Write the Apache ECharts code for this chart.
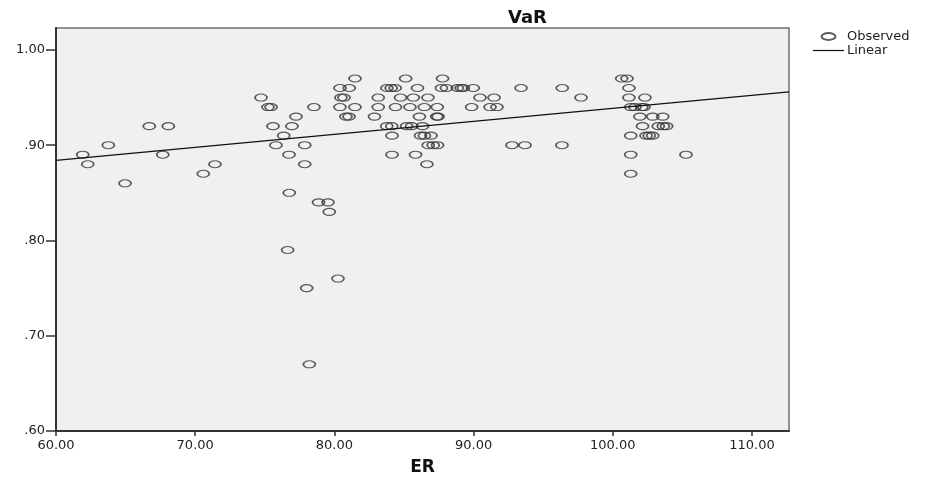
<!DOCTYPE html>
<html lang="en">

<head>
    <meta charset="UTF-8">
    <title>VaR vs ER</title>
    <script src="https://cdn.jsdelivr.net/npm/echarts@6/dist/echarts.min.js"></script>
    <style>
        body,
        html {
            padding: 0;
            margin: 0;
            background: #fff;
        }

        #chart-panel {
            width: 929px;
            height: 481px;
        }
    </style>
</head>

<body>
    <div id="chart-panel"></div>
    <script>
        // observed points
        var erValues = [
            61.92, 62.28, 63.76, 64.96, 66.70, 68.07, 67.67, 70.58, 71.42,
            74.73, 75.23, 75.45, 75.59, 75.80, 76.36, 76.74, 76.76, 76.64, 76.95, 77.24,
            77.87, 77.87, 78.01, 78.20, 78.53, 78.86, 79.54, 79.63, 80.26,
            80.40, 81.07, 80.47, 80.69, 80.40, 80.83, 81.05, 81.48, 81.48,
            82.88, 83.15, 83.15, 83.76, 84.12, 84.14, 84.14, 83.77, 84.08, 84.37, 84.75, 84.39,
            85.67, 85.43, 85.97, 86.11, 85.19, 85.55, 86.33, 85.83, 86.19, 86.47, 86.94, 86.72, 86.46,
            86.74, 87.10, 87.41, 86.65, 87.39, 87.35, 87.45, 87.77, 87.69, 88.05, 88.84, 89.10, 89.27,
            89.98, 85.12,
            90.46, 89.86, 91.47, 91.18, 91.68, 92.76, 93.69, 93.41, 96.37, 96.35, 97.72,
            100.64, 101.02, 101.16, 101.16, 102.31, 101.29, 101.59, 102.08, 102.24,
            101.95, 102.87, 103.59, 102.14, 103.27, 103.63, 103.87,
            101.29, 102.39, 102.62, 102.87, 101.29, 105.26, 101.29
        ];
        var varValues = [
            0.89, 0.88, 0.90, 0.86, 0.92, 0.92, 0.89, 0.87, 0.88,
            0.95, 0.94, 0.94, 0.92, 0.90, 0.91, 0.89, 0.85, 0.79, 0.92, 0.93,
            0.90, 0.88, 0.75, 0.67, 0.94, 0.84, 0.84, 0.83, 0.76,
            0.96, 0.96, 0.95, 0.95, 0.94, 0.93, 0.93, 0.97, 0.94,
            0.93, 0.95, 0.94, 0.92, 0.92, 0.91, 0.89, 0.96, 0.96, 0.96, 0.95, 0.94,
            0.95, 0.94, 0.96, 0.93, 0.92, 0.92, 0.92, 0.89, 0.91, 0.91, 0.91, 0.95, 0.94,
            0.90, 0.90, 0.90, 0.88, 0.94, 0.93, 0.93, 0.97, 0.96, 0.96, 0.96, 0.96, 0.96,
            0.96, 0.97,
            0.95, 0.94, 0.95, 0.94, 0.94, 0.90, 0.90, 0.96, 0.96, 0.90, 0.95,
            0.97, 0.97, 0.96, 0.95, 0.95, 0.94, 0.94, 0.94, 0.94,
            0.93, 0.93, 0.93, 0.92, 0.92, 0.92, 0.92,
            0.91, 0.91, 0.91, 0.91, 0.89, 0.89, 0.87
        ];
        // fitted linear line, ends read at the plot edges
        var lineEr = [60, 112.66];
        var lineVar = [0.884, 0.956];
        var xTicks = [60, 70, 80, 90, 100, 110];
        var yTicks = [0.6, 0.7, 0.8, 0.9, 1.0];

        var ellipse = 'path://M0,5A10,5 0 1,1 20,5A10,5 0 1,1 0,5Z';
        var dash = 'path://M0,0L40,0L40,1.6L0,1.6Z';
        var txt = '#222';
        var font = 'DejaVu Sans';

        function pairs(xs, ys) {
            return xs.map(function (x, i) { return [x, ys[i]]; });
        }

        var option = {
            backgroundColor: '#fff',
            animation: false,
            textStyle: { fontFamily: font, color: txt },
            title: {
                text: 'VaR',
                left: 503,
                top: 4,
                textStyle: { fontSize: 18, fontWeight: 'bold', color: '#111', fontFamily: font }
            },
            legend: {
                orient: 'vertical',
                left: 808,
                top: 25,
                itemWidth: 31,
                itemHeight: 7,
                itemGap: 1,
                textStyle: { fontSize: 13, color: txt, fontFamily: font, padding: [0, 0, 0, -2] },
                data: [
                    { name: 'Observed', icon: ellipse },
                    { name: 'Linear', icon: dash }
                ]
            },
            grid: {
                left: 56,
                right: 140,
                top: 28,
                bottom: 49,
                show: true,
                backgroundColor: '#f0f0f0',
                borderColor: '#707070',
                borderWidth: 1.5
            },
            xAxis: {
                type: 'value',
                min: 60,
                max: 112.66,
                name: 'ER',
                nameLocation: 'middle',
                nameGap: 28,
                nameTextStyle: { fontSize: 17, fontWeight: 'bold', color: '#111', fontFamily: font },
                splitLine: { show: false },
                axisLine: { lineStyle: { color: '#333', width: 2 } },
                axisTick: { length: 5, customValues: xTicks, lineStyle: { color: '#333', width: 1.5 } },
                axisLabel: {
                    customValues: xTicks,
                    margin: 8,
                    fontSize: 13,
                    color: txt,
                    formatter: function (v) { return v.toFixed(2); }
                }
            },
            yAxis: {
                type: 'value',
                min: 0.6,
                max: 1.023,
                splitLine: { show: false },
                axisLine: { lineStyle: { color: '#333', width: 2 } },
                axisTick: { length: 10, customValues: yTicks, lineStyle: { color: '#333', width: 1.5 } },
                axisLabel: {
                    customValues: yTicks,
                    margin: 11,
                    fontSize: 13,
                    color: txt,
                    formatter: function (v) { return v.toFixed(2).replace(/^0/, ''); }
                }
            },
            series: [
                {
                    name: 'Observed',
                    type: 'scatter',
                    symbol: ellipse,
                    symbolSize: [12, 7],
                    itemStyle: { color: 'rgba(0,0,0,0)', borderColor: '#333', borderWidth: 1.4 },
                    data: pairs(erValues, varValues)
                },
                {
                    name: 'Linear',
                    type: 'line',
                    symbol: 'none',
                    lineStyle: { color: '#111', width: 1.3 },
                    itemStyle: { color: '#111' },
                    data: pairs(lineEr, lineVar)
                }
            ]
        };

        var chartVM = echarts.init(document.getElementById('chart-panel'));
        chartVM.setOption(option);
    </script>
</body>

</html>
